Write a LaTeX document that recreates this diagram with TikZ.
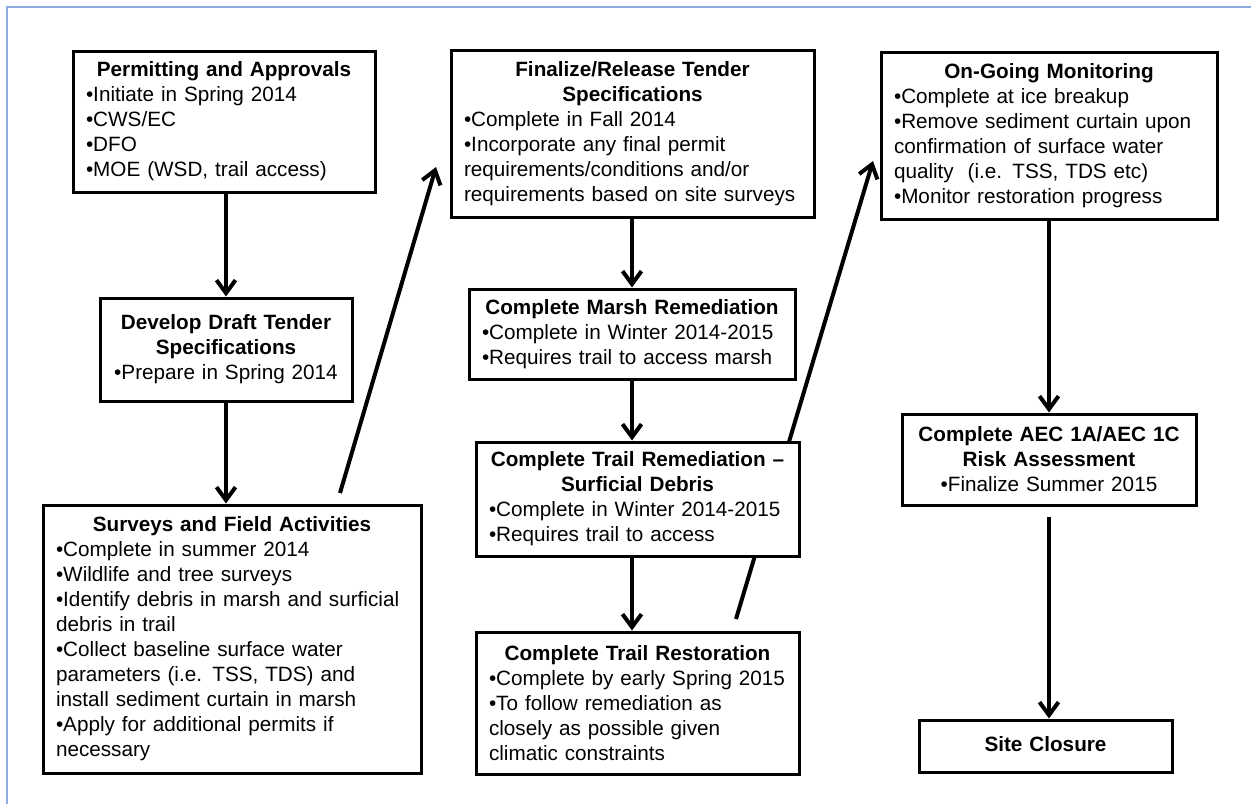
\documentclass[tikz,border=0pt]{standalone}
\usepackage{fontspec}
\setmainfont{Liberation Sans}
\usetikzlibrary{arrows.meta,calc}
\setlength\parindent{0pt}
\definecolor{framecol}{RGB}{143,170,220}
\begin{document}
\begin{tikzpicture}[x=1pt,y=-1pt,
  box/.style={draw, line width=3pt, fill=white, inner xsep=13pt, inner ysep=0pt,
    font=\fontsize{20.7}{25}\selectfont, align=left},
  cbox/.style={box, align=center},
  arr/.style={line width=4pt, -{Straight Barb[length=13pt,width=19pt]}}]
\useasboundingbox (0,0) rectangle (1251,804);
\draw[framecol, line width=1.3pt] (7,804) -- (7,7) -- (1251,7);

% free-floating diagonal connectors
\coordinate (d1s) at (340,493);
\coordinate (d1e) at (436,167);
\coordinate (d2s) at (736,619);
\coordinate (d2e) at (873,161);
\draw[arr] (d1s) -- (d1e);
\draw[arr] (d2s) -- (d2e);

% column 1
\node[box, minimum width=302pt, minimum height=141pt, text width=276pt] (P) at (224,121.5)
{{\centering\bfseries Permitting and Approvals\par}
•Initiate in Spring 2014\\
•CWS/EC\\
•DFO\\
•MOE (WSD, trail access)};

\node[cbox, minimum width=252pt, minimum height=103pt, text width=226pt] (D) at (226,349.5)
{\raisebox{3pt}{\textbf{Develop Draft Tender}}\\ \raisebox{3pt}{\textbf{Specifications}}\\ \raisebox{3pt}{•Prepare in Spring 2014}};

\node[box, minimum width=378pt, minimum height=268pt, text width=352pt] (S) at (232,639)
{{\centering\bfseries Surveys and Field Activities\par}
•Complete in summer 2014\\
•Wildlife and tree surveys\\
\mbox{•Identify debris in marsh and surficial}\\
debris in trail\\
•Collect baseline surface water\\
parameters (i.e. TSS, TDS) and\\
install sediment curtain in marsh\\
•Apply for additional permits if\\
necessary};

% column 2
\node[box, minimum width=363pt, minimum height=167pt, text width=337pt] (F) at (632.5,133.5)
{{\centering\bfseries Finalize/Release Tender\\ Specifications\par}
•Complete in Fall 2014\\
•Incorporate any final permit\\
requirements/conditions and/or\\
\mbox{requirements based on site surveys}};

\node[box, minimum width=326pt, minimum height=90pt, text width=300pt] (M) at (632,334)
{{\centering\bfseries Complete Marsh Remediation\par}
•Complete in Winter 2014-2015\\
•Requires trail to access marsh};

\node[box, minimum width=323pt, minimum height=114pt, text width=297pt] (T) at (637.5,499)
{{\centering\bfseries \mbox{Complete Trail Remediation –}\\ Surficial Debris\par}
\mbox{•Complete in Winter 2014-2015}\\
•Requires trail to access};

\node[box, minimum width=323pt, minimum height=142pt, text width=297pt] (R) at (637.5,703)
{{\centering\bfseries Complete Trail Restoration\par}
•Complete by early Spring 2015\\
•To follow remediation as\\
closely as possible given\\
climatic constraints};

% column 3
\node[box, minimum width=336pt, minimum height=167pt, text width=310pt] (O) at (1049,135.5)
{{\centering\bfseries On-Going Monitoring\par}
•Complete at ice breakup\\
\mbox{•Remove sediment curtain upon}\\
confirmation of surface water\\
quality\ \ (i.e. TSS, TDS etc)\\
•Monitor restoration progress};

\node[cbox, minimum width=294pt, minimum height=91pt, text width=268pt] (A) at (1049,459.5)
{\textbf{Complete AEC 1A/AEC 1C}\\ \textbf{Risk Assessment}\\ •Finalize Summer 2015};

\node[cbox, minimum width=253pt, minimum height=52pt, text width=227pt] (C) at (1045.5,746)
{\raisebox{5pt}{\textbf{Site Closure}}};

% vertical connectors
\draw[arr] (D.north |- P.south) -- (D.north);
\draw[arr] (D.south) -- (D.south |- S.north);
\draw[arr] (M.north |- F.south) -- (M.north);
\draw[arr] (M.south) -- (M.south |- T.north);
\draw[arr] (M.south |- T.south) -- (M.south |- R.north);
\draw[arr] (O.south) -- (A.north);
\draw[arr, shorten <=10pt] (A.south) -- (A.south |- C.north);
\end{tikzpicture}
\end{document}
